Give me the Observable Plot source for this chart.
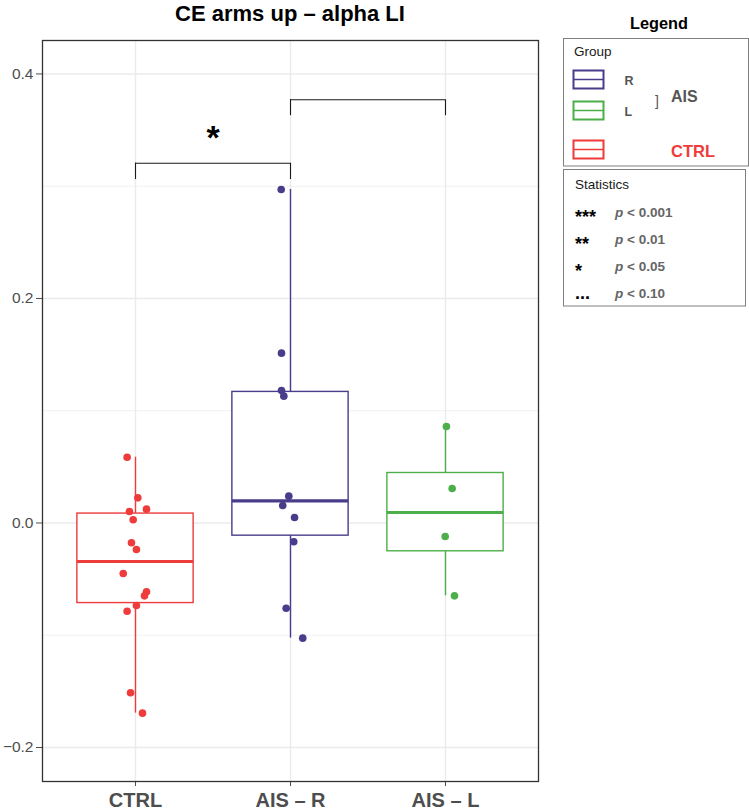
<!DOCTYPE html>
<html><head><meta charset="utf-8">
<script src="https://cdn.jsdelivr.net/npm/d3@7"></script>
<script src="https://cdn.jsdelivr.net/npm/@observablehq/plot@0.6"></script>
<style>
body{margin:0;background:#fff;font-family:"Liberation Sans",Arial,Helvetica,sans-serif;}
#wrap{position:relative;width:749px;height:810px;overflow:hidden;}
#wrap svg{position:absolute;left:0;top:0;}
</style></head><body><div id="wrap"></div>
<script>
// ---- data ----
const chartTitle = "CE arms up – alpha LI";
const groups = ["CTRL", "AIS – R", "AIS – L"];
const groupColors = ["#EE3B3B", "#483D8B", "#4DAF4A"];

const ctrlValues = [0.0586, 0.0224, 0.0123, 0.0102, 0.0029, -0.0176, -0.0236, -0.0450, -0.0613, -0.0649, -0.0735, -0.0786, -0.1513, -0.1694];
const ctrlJitter = [-0.054, 0.015, 0.071, -0.039, -0.015, -0.026, 0.006, -0.079, 0.071, 0.058, 0.006, -0.054, -0.032, 0.045];
const aisRValues = [0.2971, 0.1513, 0.1180, 0.1130, 0.0239, 0.0156, 0.0049, -0.0167, -0.0759, -0.1026];
const aisRJitter = [-0.060, -0.058, -0.058, -0.043, -0.011, -0.050, 0.026, 0.021, -0.028, 0.079];
const aisLValues = [0.0860, 0.0307, -0.0120, -0.0649];
const aisLJitter = [0.006, 0.043, -0.002, 0.058];

const yMajorTicks = [-0.2, 0.0, 0.2, 0.4];
const yMinorTicks = [-0.1, 0.1, 0.3];

// significance brackets (from group, to group, bracket height, leg end, label)
const bracketFrom = [1, 2];
const bracketTo = [2, 3];
const bracketY = [0.3205, 0.3770];
const bracketLegY = [0.3060, 0.3628];
const bracketLabel = ["*", ""];

// legend content
const legendTitle = "Legend";
const legendGroupTitle = "Group";
const legendKeys = ["R", "L", ""];
const legendKeyColors = ["#483D8B", "#4DAF4A", "#EE3B3B"];
const statsTitle = "Statistics";
const statsStars = ["***", "**", "*", "..."];
const statsP = ["0.001", "0.01", "0.05", "0.10"];

// ---- derived tables ----
const valueSets = [ctrlValues, aisRValues, aisLValues];
const jitterSets = [ctrlJitter, aisRJitter, aisLJitter];
const points = valueSets.flatMap((vals, gi) => vals.map((v, k) => ({group: groups[gi], pos: gi + 1, jit: jitterSets[gi][k], value: v})));
const stats = valueSets.map((vals, gi) => {
  const s = vals.slice().sort(d3.ascending);
  const q1 = d3.quantileSorted(s, 0.25), med = d3.quantileSorted(s, 0.5), q3 = d3.quantileSorted(s, 0.75);
  const iqr = q3 - q1;
  const lo = d3.min(s.filter(v => v >= q1 - 1.5 * iqr));
  const hi = d3.max(s.filter(v => v <= q3 + 1.5 * iqr));
  return {group: groups[gi], pos: gi + 1, q1, med, q3, lo, hi};
});
const brackets = bracketFrom.map((f, i) => ({from: f, to: bracketTo[i], y: bracketY[i], leg: bracketLegY[i], label: bracketLabel[i]}));

const boxHalf = 0.375;
const font = "'Liberation Sans', Arial, Helvetica, sans-serif";

const chart = Plot.plot({
  width: 749, height: 810,
  marginLeft: 42, marginRight: 211, marginTop: 40, marginBottom: 29,
  style: {fontFamily: font, background: "transparent", overflow: "visible"},
  x: {type: "linear", domain: [0.4, 3.6], axis: null},
  y: {domain: [-0.2303, 0.4298], axis: null},
  color: {domain: groups, range: groupColors},
  marks: [
    Plot.gridY(yMinorTicks, {stroke: "#ebebeb", strokeOpacity: 1, strokeWidth: 0.7}),
    Plot.gridY(yMajorTicks, {stroke: "#ebebeb", strokeOpacity: 1, strokeWidth: 1.4}),
    Plot.gridX([1, 2, 3], {stroke: "#ebebeb", strokeOpacity: 1, strokeWidth: 1.4}),
    Plot.ruleX(stats, {x: "pos", y1: "q3", y2: "hi", stroke: "group", strokeWidth: 1.4}),
    Plot.ruleX(stats, {x: "pos", y1: "lo", y2: "q1", stroke: "group", strokeWidth: 1.4}),
    Plot.rect(stats, {x1: d => d.pos - boxHalf, x2: d => d.pos + boxHalf, y1: "q1", y2: "q3", fill: "white", stroke: "group", strokeWidth: 1.4}),
    Plot.ruleY(stats, {y: "med", x1: d => d.pos - boxHalf, x2: d => d.pos + boxHalf, stroke: "group", strokeWidth: 3.2}),
    Plot.dot(points, {x: d => d.pos + d.jit, y: "value", fill: "group", r: 3.8}),
    Plot.ruleY(brackets, {y: "y", x1: "from", x2: "to", stroke: "#1a1a1a", strokeWidth: 1.1}),
    Plot.ruleX(brackets, {x: "from", y1: "leg", y2: "y", stroke: "#1a1a1a", strokeWidth: 1.1}),
    Plot.ruleX(brackets, {x: "to", y1: "leg", y2: "y", stroke: "#1a1a1a", strokeWidth: 1.1}),
    Plot.text(brackets, {x: d => (d.from + d.to) / 2, y: "y", text: "label", fontSize: 34, fontWeight: "bold", fill: "black", dy: -25}),
    Plot.axisY(yMajorTicks, {anchor: "left", tickSize: 6, tickPadding: 3, tickFormat: d3.format(".1f"), fontSize: 15.5, color: "#4d4d4d", label: null}),
    Plot.axisX([1, 2, 3], {anchor: "bottom", tickSize: 5, tickPadding: 6, tickFormat: i => groups[i - 1], fontSize: 20, fontWeight: "bold", color: "#4d4d4d", label: null}),
    Plot.frame({stroke: "#333", strokeWidth: 1.3})
  ]
});
const wrap = document.getElementById("wrap");
wrap.appendChild(chart);

// ---- title and legend overlay ----
const svg = d3.select(wrap).append("svg").attr("width", 749).attr("height", 810)
  .style("font-family", font).style("pointer-events", "none");
svg.append("text").attr("x", 290).attr("y", 21).attr("text-anchor", "middle")
  .attr("font-size", 22).attr("font-weight", "bold").attr("fill", "#000").text(chartTitle);

svg.append("text").attr("x", 659).attr("y", 29).attr("text-anchor", "middle")
  .attr("font-size", 16.3).attr("font-weight", "bold").attr("fill", "#000").text(legendTitle);
svg.append("rect").attr("x", 563.5).attr("y", 38.5).attr("width", 185).attr("height", 127.5)
  .attr("fill", "white").attr("stroke", "#7f7f7f").attr("stroke-width", 1);
svg.append("text").attr("x", 574).attr("y", 56).attr("font-size", 13.5).attr("fill", "#1a1a1a").text(legendGroupTitle);
const keyY = [70.5, 101.5, 140.5];
legendKeys.forEach((k, i) => {
  const g = svg.append("g");
  g.append("rect").attr("x", 573.5).attr("y", keyY[i]).attr("width", 30).attr("height", 18)
    .attr("fill", "white").attr("stroke", legendKeyColors[i]).attr("stroke-width", 2);
  g.append("line").attr("x1", 573.5).attr("x2", 603.5).attr("y1", keyY[i] + 9).attr("y2", keyY[i] + 9)
    .attr("stroke", legendKeyColors[i]).attr("stroke-width", 1.5);
  if (k) g.append("text").attr("x", 624.5).attr("y", keyY[i] + 14.5).attr("font-size", 12.5)
    .attr("font-weight", "bold").attr("fill", "#555").text(k);
});
svg.append("text").attr("x", 655).attr("y", 106).attr("font-size", 14).attr("fill", "#555").text("]");
svg.append("text").attr("x", 671).attr("y", 102).attr("font-size", 16).attr("font-weight", "bold").attr("fill", "#555").text("AIS");
svg.append("text").attr("x", 671).attr("y", 157).attr("font-size", 16.5).attr("font-weight", "bold").attr("fill", "#EE3B3B").text(groups[0]);

svg.append("rect").attr("x", 563.5).attr("y", 169.5).attr("width", 182).attr("height", 136.5)
  .attr("fill", "white").attr("stroke", "#7f7f7f").attr("stroke-width", 1);
svg.append("text").attr("x", 575).attr("y", 188.5).attr("font-size", 13.5).attr("fill", "#1a1a1a").text(statsTitle);
statsStars.forEach((s, i) => {
  const c = 212.5 + 27 * i;
  svg.append("text").attr("x", 575).attr("y", s === "..." ? c + 5 : c + 10.5).attr("font-size", 18)
    .attr("font-weight", "bold").attr("fill", "#000").text(s);
  const t = svg.append("text").attr("x", 615).attr("y", c + 4.5).attr("font-size", 13.5).attr("font-weight", "bold").attr("fill", "#666");
  t.append("tspan").attr("font-style", "italic").text("p");
  t.append("tspan").text(" < " + statsP[i]);
});
</script></body></html>
